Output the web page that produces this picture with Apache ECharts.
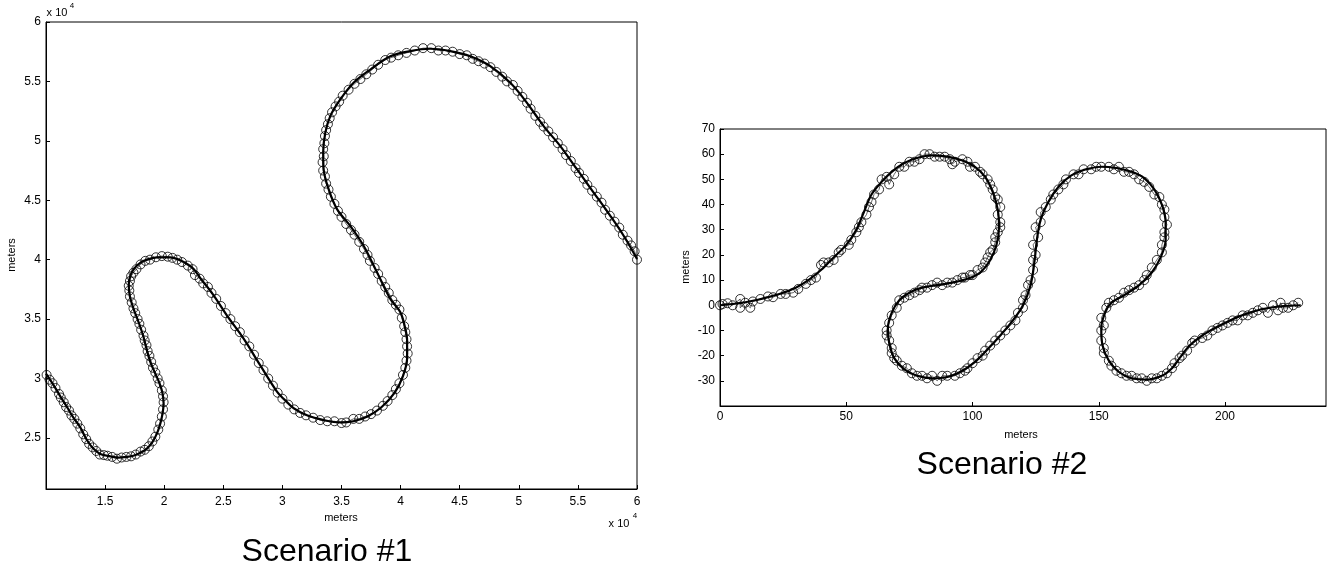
<!DOCTYPE html>
<html><head><meta charset="utf-8">
<script src="https://cdn.jsdelivr.net/npm/echarts@6/dist/echarts.min.js"></script>
<style>html,body{margin:0;padding:0;background:#fff}#c{width:1328px;height:575px}</style>
</head><body><div id="c"></div>
<script>
// Scenario #1 values are in units of 10^4 meters (axis shows "x 10^4")
const s1Truth = [[1.000,3.040],[1.060,2.950],[1.121,2.850],[1.178,2.760],[1.232,2.670],[1.290,2.590],[1.347,2.480],[1.400,2.410],[1.460,2.365],[1.544,2.345],[1.614,2.335],[1.680,2.340],[1.739,2.350],[1.800,2.375],[1.854,2.410],[1.900,2.465],[1.940,2.540],[1.967,2.620],[1.985,2.700],[1.995,2.790],[1.985,2.880],[1.960,2.960],[1.925,3.040],[1.882,3.140],[1.850,3.250],[1.822,3.360],[1.783,3.475],[1.741,3.586],[1.710,3.690],[1.700,3.790],[1.715,3.870],[1.750,3.930],[1.800,3.975],[1.854,4.000],[1.940,4.020],[2.050,4.020],[2.136,3.995],[2.200,3.960],[2.249,3.922],[2.306,3.845],[2.418,3.700],[2.531,3.530],[2.672,3.335],[2.813,3.110],[2.954,2.890],[3.010,2.830],[3.095,2.750],[3.208,2.690],[3.349,2.650],[3.490,2.630],[3.600,2.640],[3.720,2.680],[3.840,2.760],[3.950,2.880],[4.020,3.020],[4.055,3.170],[4.055,3.320],[4.030,3.460],[3.997,3.560],[3.913,3.670],[3.800,3.894],[3.687,4.117],[3.574,4.285],[3.462,4.425],[3.391,4.593],[3.349,4.761],[3.345,4.901],[3.363,5.069],[3.405,5.208],[3.490,5.348],[3.602,5.488],[3.744,5.600],[3.913,5.711],[4.082,5.755],[4.251,5.775],[4.420,5.755],[4.590,5.711],[4.759,5.628],[4.928,5.488],[5.069,5.320],[5.210,5.124],[5.351,4.956],[5.492,4.761],[5.633,4.565],[5.774,4.369],[5.887,4.201],[6.000,4.006]];
const s1Meas = [[1.005,3.030],[1.030,2.990],[1.055,2.960],[1.080,2.920],[1.110,2.870],[1.125,2.840],[1.150,2.800],[1.170,2.760],[1.195,2.730],[1.215,2.690],[1.240,2.660],[1.265,2.620],[1.290,2.580],[1.315,2.530],[1.340,2.490],[1.365,2.450],[1.395,2.420],[1.425,2.390],[1.455,2.360],[1.490,2.355],[1.520,2.350],[1.560,2.340],[1.600,2.325],[1.640,2.335],[1.680,2.340],[1.720,2.345],[1.760,2.360],[1.800,2.385],[1.835,2.400],[1.870,2.430],[1.900,2.470],[1.925,2.510],[1.950,2.570],[1.965,2.620],[1.980,2.680],[1.990,2.740],[1.995,2.800],[1.990,2.850],[1.980,2.900],[1.960,2.960],[1.945,3.000],[1.925,3.050],[1.905,3.090],[1.890,3.140],[1.875,3.190],[1.860,3.230],[1.850,3.280],[1.835,3.320],[1.825,3.360],[1.805,3.410],[1.790,3.460],[1.775,3.500],[1.755,3.550],[1.740,3.590],[1.725,3.640],[1.710,3.690],[1.705,3.740],[1.700,3.780],[1.710,3.820],[1.720,3.860],[1.740,3.890],[1.765,3.920],[1.800,3.960],[1.840,3.990],[1.880,4.000],[1.930,4.020],[1.980,4.030],[2.030,4.025],[2.070,4.015],[2.110,4.000],[2.150,3.980],[2.200,3.950],[2.240,3.920],[2.260,3.870],[2.300,3.840],[2.330,3.800],[2.370,3.770],[2.400,3.720],[2.440,3.670],[2.480,3.610],[2.520,3.550],[2.560,3.500],[2.600,3.440],[2.640,3.390],[2.680,3.320],[2.720,3.270],[2.760,3.200],[2.800,3.130],[2.840,3.070],[2.880,3.000],[2.920,2.940],[2.960,2.880],[3.000,2.830],[3.050,2.780],[3.100,2.740],[3.150,2.710],[3.200,2.690],[3.260,2.670],[3.320,2.650],[3.380,2.640],[3.440,2.640],[3.500,2.625],[3.540,2.630],[3.600,2.660],[3.650,2.660],[3.700,2.680],[3.750,2.700],[3.800,2.730],[3.850,2.770],[3.890,2.810],[3.930,2.860],[3.960,2.910],[3.990,2.960],[4.020,3.030],[4.040,3.090],[4.050,3.150],[4.060,3.210],[4.055,3.270],[4.050,3.330],[4.040,3.390],[4.030,3.440],[4.010,3.510],[3.990,3.580],[3.960,3.620],[3.930,3.660],[3.900,3.720],[3.870,3.770],[3.840,3.820],[3.810,3.880],[3.780,3.930],[3.740,3.990],[3.720,4.040],[3.690,4.090],[3.650,4.150],[3.610,4.210],[3.580,4.250],[3.540,4.300],[3.500,4.360],[3.470,4.410],[3.440,4.470],[3.410,4.530],[3.390,4.590],[3.370,4.640],[3.360,4.700],[3.345,4.750],[3.340,4.820],[3.350,4.870],[3.345,4.930],[3.355,4.980],[3.360,5.040],[3.370,5.090],[3.385,5.140],[3.400,5.190],[3.420,5.240],[3.450,5.290],[3.480,5.330],[3.510,5.380],[3.560,5.430],[3.610,5.480],[3.660,5.520],[3.710,5.560],[3.760,5.600],[3.810,5.640],[3.870,5.680],[3.920,5.700],[3.980,5.720],[4.050,5.740],[4.120,5.760],[4.190,5.780],[4.260,5.780],[4.320,5.760],[4.380,5.760],[4.440,5.750],[4.500,5.730],[4.560,5.720],[4.610,5.690],[4.660,5.670],[4.710,5.650],[4.760,5.620],[4.810,5.580],[4.860,5.540],[4.900,5.500],[4.950,5.470],[4.990,5.420],[5.030,5.370],[5.070,5.320],[5.100,5.270],[5.140,5.210],[5.180,5.160],[5.210,5.120],[5.250,5.080],[5.290,5.030],[5.330,4.980],[5.370,4.930],[5.400,4.880],[5.440,4.830],[5.480,4.770],[5.510,4.730],[5.550,4.680],[5.580,4.630],[5.620,4.580],[5.660,4.530],[5.700,4.480],[5.730,4.420],[5.770,4.370],[5.810,4.320],[5.850,4.270],[5.880,4.210],[5.920,4.160],[5.950,4.120],[5.980,4.070],[6.000,4.000]];
// Scenario #2 values in meters
const s2Truth = [[0,0],[5,0.5],[10,1.2],[15,2.2],[20,3.5],[25,5],[30,7],[35,10],[40,14],[45,19],[50,24],[54,30],[57,37],[60,44],[64,49],[68,53],[73,56.5],[78,58.5],[84,59.5],[90,59],[96,57.5],[101,55],[105,51],[108,45],[110,38],[110.5,31],[109.5,24],[107,18],[103,13],[98,10.5],[92,9],[86,8],[80,7],[75,5],[71,2],[68,-3],[66.5,-9],[67,-15],[69,-21],[73,-25.5],[78,-28],[84,-29],[90,-28.5],[96,-26],[101,-22.5],[106,-17.5],[111,-12],[116,-6],[120,0],[123,8],[124.5,17],[125.5,26],[127,34],[130,41],[134,47],[139,51.5],[145,54],[151,55],[157,54.5],[163,53],[168,50.5],[172,46],[175,40],[176.5,33],[176.5,26],[174.5,19],[171,13],[166,8],[160,4],[155,1],[152.5,-3],[151,-9],[151.5,-16],[154,-22],[158,-26.5],[163,-29],[169,-29.5],[175,-28],[179,-25],[182,-21],[186,-16],[191,-12],[196,-9],[202,-6],[208,-3.5],[215,-1.5],[222,-0.4],[230,0]];
const s2Meas = [[0,0],[1,0.5],[3,0.8],[5,0],[8,2.5],[8,-1],[10,1],[12,-1],[13,1.5],[16,2.5],[19,3.5],[21,3.2],[24,4.5],[26,4.5],[29,5],[31,6.5],[34,8.5],[36,10],[38,11],[40,16],[41,17],[43,17],[45,18],[47,21],[48,22],[51,24],[52,26],[54,29],[55,31],[56,33],[58,36],[59,39],[60,41],[61,44],[63,46],[64,50],[66,51],[67,48],[69,52],[71,55],[73,55],[75,57],[77,57],[79,58],[81,60],[83,60],[85,59],[87,59],[89,59],[91,58],[92,56],[93,57],[96,58],[98,57],[99,55],[101,55],[103,53],[104,52],[106,50],[107,48],[108,46],[109,43],[110,42],[111,39],[110,36],[111,33],[111,31],[110,29],[109,27],[109,25],[108,22],[107,21],[106,19],[105,17],[104,15],[102,14],[100,12],[99,12],[97,11],[96,11],[94,10],[92,9],[90,9],[88,8],[86,9],[84,8],[82,7],[80,7],[79,6],[77,5],[75,4],[73,3],[71,2],[70,-1],[68,-4],[67,-7],[66,-10],[66,-12],[67,-14],[68,-17],[68,-19],[69,-21],[70,-22],[72,-24],[74,-25],[76,-27],[78,-28],[80,-28],[82,-29],[84,-28],[86,-30],[88,-28],[90,-28],[93,-28],[95,-27],[97,-26],[98,-25],[100,-23],[102,-21],[104,-20],[105,-18],[107,-16],[109,-14],[111,-12],[113,-10],[115,-8],[117,-6],[118,-3],[120,-1],[120,2],[121,4],[122,8],[123,10],[124,14],[124,18],[125,20],[124,24],[126,27],[125,31],[127,33],[127,37],[129,39],[131,42],[132,44],[134,46],[136,48],[137,50],[140,52],[142,52],[144,54],[147,54],[149,55],[151,55],[154,55],[156,54],[158,55],[160,53],[162,53],[164,52],[166,50],[168,49],[170,47],[172,44],[174,43],[175,40],[176,38],[176,35],[177,32],[176,29],[176,27],[175,24],[175,21],[173,18],[171,15],[169,12],[168,10],[166,8],[164,7],[162,6],[160,5],[158,3],[156,2],[154,1],[153,-1],[151,-5],[152,-8],[151,-10],[151,-14],[152,-17],[152,-19],[154,-22],[155,-24],[157,-26],[159,-27],[161,-28],[163,-28],[165,-29],[167,-29],[169,-30],[171,-29],[173,-29],[175,-28],[177,-27],[179,-25],[180,-23],[182,-21],[183,-20],[185,-18],[187,-15],[188,-14],[191,-13],[193,-12],[195,-10],[197,-9],[199,-8],[201,-7],[203,-6],[205,-6],[207,-4],[209,-4],[211,-3],[213,-2],[215,-1],[217,-3],[219,0],[221,-2],[222,1],[223,-1],[225,-1],[227,0],[229,1]];

const s1XTicks = [1.5,2,2.5,3,3.5,4,4.5,5,5.5,6];
const s1YTicks = [2.5,3,3.5,4,4.5,5,5.5,6];
const s2XTicks = [0,50,100,150,200];
const s2YTicks = [-30,-20,-10,0,10,20,30,40,50,60,70];
const titles = ['Scenario #1','Scenario #2'];
const axisName = 'meters';

const FF = '"Liberation Sans", Arial, Helvetica, sans-serif';

function axis(gridIndex, min, max, ticks, margin) {
  return {
    type: 'value', gridIndex, min, max, scale: true,
    axisLine: {show: true, onZero: false, lineStyle: {color: '#000', width: 1}},
    axisTick: {show: true, inside: true, length: 4, customValues: ticks, lineStyle: {color: '#000', width: 1}},
    axisLabel: {customValues: ticks, margin, fontSize: 12, color: '#000', fontFamily: FF, formatter: v => String(v)},
    splitLine: {show: false}
  };
}

function measSeries(idx, data) {
  return {
    type: 'line', xAxisIndex: idx, yAxisIndex: idx, data,
    symbol: 'circle', symbolSize: 9, showSymbol: true, showAllSymbol: true,
    lineStyle: {color: '#000', width: 0.6},
    itemStyle: {color: 'rgba(0,0,0,0)', borderColor: '#000', borderWidth: 0.8},
    emphasis: {disabled: true}, silent: true, z: 2
  };
}
function truthSeries(idx, data) {
  return {
    type: 'line', xAxisIndex: idx, yAxisIndex: idx, data,
    showSymbol: false, smooth: 0.35,
    lineStyle: {color: '#000', width: 2.2},
    emphasis: {disabled: true}, silent: true, z: 3
  };
}
function txt(x, y, text, size, opts) {
  return Object.assign({
    type: 'text', x, y, silent: true,
    style: {text, fill: '#000', font: size + 'px ' + FF, textAlign: 'center', textVerticalAlign: 'middle'}
  }, opts || {});
}

const chart = echarts.init(document.getElementById('c'), null, {renderer: 'canvas'});
chart.setOption({
  animation: false,
  backgroundColor: '#fff',
  grid: [
    {left: 46, top: 22, width: 591, height: 467, show: true, borderColor: '#000', borderWidth: 1, backgroundColor: '#fff'},
    {left: 720, top: 129, width: 606, height: 277, show: true, borderColor: '#000', borderWidth: 1, backgroundColor: '#fff'}
  ],
  xAxis: [axis(0, 1, 6, s1XTicks, 7), axis(1, 0, 240, s2XTicks, 5)],
  yAxis: [axis(0, 2.07, 6, s1YTicks, 5), axis(1, -40, 70, s2YTicks, 5)],
  series: [
    measSeries(0, s1Meas), truthSeries(0, s1Truth),
    measSeries(1, s2Meas), truthSeries(1, s2Truth)
  ],
  graphic: [
    txt(341, 518, axisName, 11),
    txt(12, 255, axisName, 11, {rotation: Math.PI / 2}),
    txt(57, 13, 'x 10', 11),
    txt(72, 6, '4', 8),
    txt(619, 524, 'x 10', 11),
    txt(635, 516, '4', 8),
    txt(327, 552, titles[0], 32),
    txt(1021, 435, axisName, 11),
    txt(686, 267, axisName, 11, {rotation: Math.PI / 2}),
    txt(1002, 465, titles[1], 32)
  ]
});
</script>
</body></html>
